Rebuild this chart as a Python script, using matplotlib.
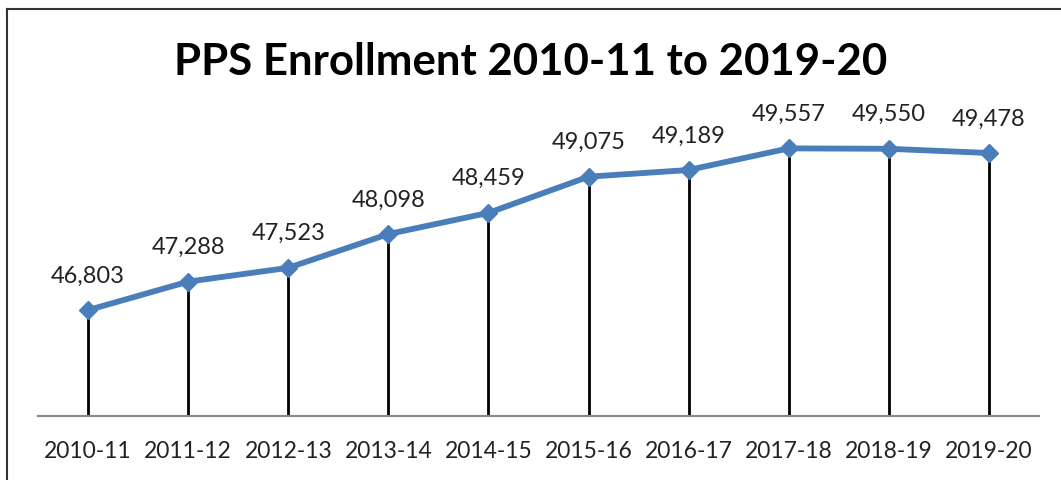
import matplotlib
matplotlib.use('Agg')

import matplotlib.pyplot as plt

years = ['2010-11', '2011-12', '2012-13', '2013-14', '2014-15',
         '2015-16', '2016-17', '2017-18', '2018-19', '2019-20']
enrollment = [46803, 47288, 47523, 48098, 48459,
              49075, 49189, 49557, 49550, 49478]

plt.rcParams['font.family'] = ['Lato', 'DejaVu Sans']

W, H = 1061, 480
fig = plt.figure(figsize=(W / 100, H / 100), dpi=100)
ax = fig.add_axes([38 / W, 1 - 416 / H, (1039 - 38) / W, (416 - 93) / H])

x = list(range(len(years)))
ax.vlines(x, 45000, enrollment, color='black', linewidth=2, zorder=2)
ax.plot(x, enrollment, color='#4A7EBB', linewidth=4.2, marker='D',
        markersize=9, zorder=3)

for xi, v in zip(x, enrollment):
    ax.annotate(f'{v:,}', (xi, v), xytext=(0, 17), textcoords='offset points',
                ha='center', va='bottom', fontsize=17, color='#222222')

ax.set_xlim(-0.5, len(years) - 0.5)
ax.set_ylim(45000, 50500)
ax.set_xticks(x)
ax.set_xticklabels(years, fontsize=16.5, color='#222222')
ax.tick_params(axis='x', length=0, pad=18)
ax.set_yticks([])
for s in ['top', 'right', 'left']:
    ax.spines[s].set_visible(False)
ax.spines['bottom'].set_color('#888888')
ax.spines['bottom'].set_linewidth(1.5)

fig.text(0.5, 1 - 62 / H, 'PPS Enrollment 2010-11 to 2019-20', ha='center',
         va='center', fontsize=31.5, fontweight='bold')

# outer frame (top and left edges)
fig.add_artist(plt.Line2D([7 / W, 7 / W], [0, 1 - 9 / H], color='#333333',
                          linewidth=1.5, transform=fig.transFigure))
fig.add_artist(plt.Line2D([7 / W, 1], [1 - 9 / H, 1 - 9 / H], color='#333333',
                          linewidth=1.5, transform=fig.transFigure))

fig.savefig('out.png', dpi=100)
